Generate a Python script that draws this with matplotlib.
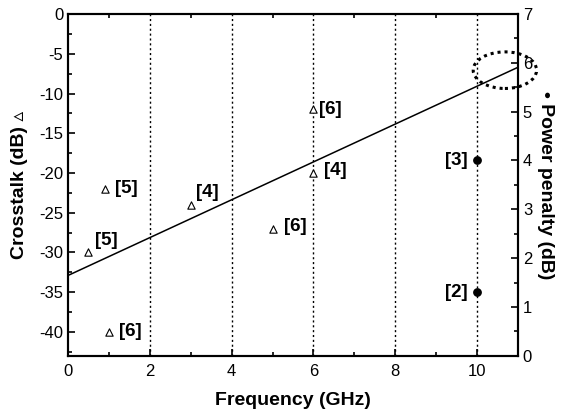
import matplotlib.pyplot as plt
from matplotlib.patches import Ellipse
from matplotlib.ticker import MultipleLocator

plt.rcParams['font.family'] = ['Liberation Sans', 'DejaVu Sans']
plt.rcParams['axes.unicode_minus'] = False

# crosstalk points (left axis)
xt_freq = [1, 0.5, 0.9, 3, 5, 6, 6]
xt_db = [-40, -30, -22, -24, -27, -20, -12]
xt_ref = ['[6]', '[5]', '[5]', '[4]', '[6]', '[4]', '[6]']
xt_off = [(10, 0), (7, 12), (10, 0), (5, 12), (11, 2), (11, 2), (6, 0)]

# power penalty points (right axis)
pp_freq = [10, 10]
pp_db = [4.0, 1.3]
pp_ref = ['[3]', '[2]']

# trend line
line_x = [0, 11]
line_y = [-32.9, -6.7]

fig = plt.figure(figsize=(5.65, 4.13), dpi=100)
ax = fig.add_axes([0.1204, 0.1387, 0.7964, 0.8273])
ax2 = ax.twinx()

for xv in [2, 4, 6, 8, 10]:
    ax.axvline(xv, color='black', ls=(0, (1.5, 2)), lw=1.0, zorder=1)

ax.plot(line_x, line_y, color='black', lw=1.1, zorder=2)
ax.scatter(xt_freq, xt_db, marker='^', s=28, facecolors='white',
           edgecolors='black', linewidths=0.8, zorder=3)
for x, y, t, o in zip(xt_freq, xt_db, xt_ref, xt_off):
    ax.annotate(t, (x, y), xytext=o, textcoords='offset pixels',
                ha='left', va='center', fontsize=13.5, fontweight='bold')

ax2.scatter(pp_freq, pp_db, marker='o', s=28, color='black', zorder=3)
for x, y, t in zip(pp_freq, pp_db, pp_ref):
    ax2.annotate(t, (x, y), xytext=(-9, 0), textcoords='offset pixels',
                 ha='right', va='center', fontsize=13.5, fontweight='bold')

ell = Ellipse((10.68, 5.85), 1.55, 0.75, fill=False, ls=(0, (1, 1.3)),
              lw=2.2, color='black', clip_on=False, zorder=4)
ax2.add_patch(ell)

ax.set_xlim(0, 11)
ax.set_ylim(-43, 0)
ax2.set_ylim(0, 7)

ax.xaxis.set_major_locator(MultipleLocator(2))
ax.xaxis.set_minor_locator(MultipleLocator(1))
ax.yaxis.set_major_locator(MultipleLocator(5))
ax.yaxis.set_minor_locator(MultipleLocator(2.5))
ax2.yaxis.set_major_locator(MultipleLocator(1))
ax2.yaxis.set_minor_locator(MultipleLocator(0.5))

ax.tick_params(which='both', direction='in', top=True, width=1.2, labelsize=12)
ax.tick_params(which='major', length=5)
ax.tick_params(which='minor', length=3)
ax.tick_params(axis='x', which='major', top=False, pad=6)
ax2.tick_params(which='both', direction='in', width=1.2, labelsize=12)
ax2.tick_params(which='major', length=5)
ax2.tick_params(which='minor', length=3)

for a in (ax, ax2):
    for s in a.spines.values():
        s.set_linewidth(1.5)

ax.set_xlabel('Frequency (GHz)', fontsize=14, fontweight='bold', labelpad=9)
ax.set_ylabel('Crosstalk (dB) \u25b5', fontsize=14, fontweight='bold', labelpad=8)
ax2.set_ylabel('\u2022 Power penalty (dB)', fontsize=14, fontweight='bold',
               rotation=270, labelpad=16)

fig.savefig('out.png', dpi=100)
